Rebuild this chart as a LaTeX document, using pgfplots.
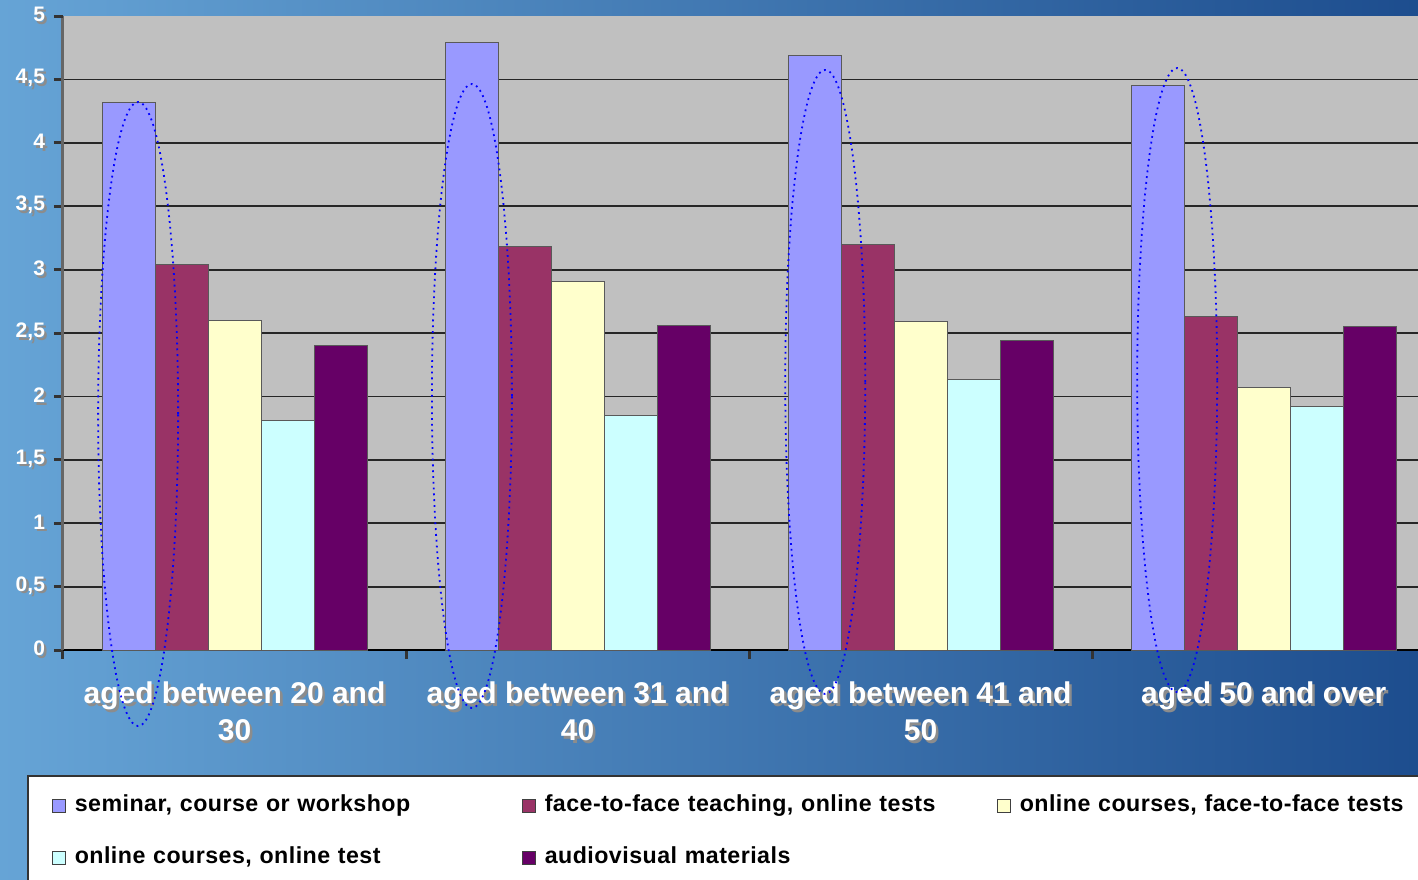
\documentclass[border=0pt]{standalone}
\usepackage{pgfplots}
\pgfplotsset{compat=1.18}
\usepackage{fontspec}
\setmainfont{Liberation Sans}
\newfontfamily\legfont[LetterSpace=2]{Liberation Sans}

\definecolor{plotbg}{HTML}{C0C0C0}
\definecolor{sem}{HTML}{9999FF}
\definecolor{ftf}{HTML}{993366}
\definecolor{ocf}{HTML}{FFFFCC}
\definecolor{oco}{HTML}{CCFFFF}
\definecolor{av}{HTML}{660066}
\definecolor{bgl}{HTML}{66A4D6}
\definecolor{bgm}{HTML}{4583C2}
\definecolor{bgr}{HTML}{1D4D8E}

% white text with a grey drop shadow
\newcommand{\sh}[1]{\leavevmode\rlap{\kern1.3pt\raisebox{-1.3pt}{\textcolor{black!45}{#1}}}\textcolor{white}{#1}}

\begin{document}
\begin{tikzpicture}
\shade[left color=bgl, middle color=bgm, right color=bgr] (0,0) rectangle (709pt,439.5pt);
\begin{axis}[
    at={(31.5pt,114.5pt)}, anchor=south west,
    scale only axis, width=677.5pt, height=317pt,
    xmin=-0.5, xmax=3.45, ymin=0, ymax=5,
    ybar=0pt, bar width=26.5pt,
    clip=false,
    axis background/.style={fill=plotbg},
    axis lines*=left,
    x axis line style={black, line width=1pt},
    y axis line style={black!60, line width=1.5pt},
    tick align=outside,
    major tick length=4.5pt,
    tick style={black!80, line width=1.5pt},
    xtick={-0.5,0.5,1.5,2.5},
    xticklabels={},
    extra x ticks={0,1,2,3},
    extra x tick style={major tick length=0pt},
    extra x tick labels={{\sh{aged between 20 and}\\\sh{30}},{\sh{aged between 31 and}\\\sh{40}},{\sh{aged between 41 and}\\\sh{50}},{\sh{aged 50 and over}}},
    xticklabel style={align=center, font=\bfseries\fontsize{15}{18.5}\selectfont, yshift=-12.5pt},
    ytick={0,0.5,...,4.5},
    yticklabels={{\sh{0}},{\sh{0,5}},{\sh{1}},{\sh{1,5}},{\sh{2}},{\sh{2,5}},{\sh{3}},{\sh{3,5}},{\sh{4}},{\sh{4,5}}},
    extra y ticks={5},
    extra y tick labels={{\sh{5}}},
    extra y tick style={grid=none},
    yticklabel style={font=\bfseries\fontsize{10.5}{12}\selectfont, xshift=-1pt},
    ymajorgrids,
    major grid style={black!85, line width=0.9pt},
    legend columns=3,
    legend cell align=left,
    legend style={at={(-0.02657,-0.1972)}, anchor=north west, draw=black!80, line width=0.8pt, fill=white,
        font=\legfont\bfseries\fontsize{11.6}{14}\selectfont, inner xsep=12pt, inner ysep=8pt, row sep=12pt,
        nodes={text height=8pt, text depth=2pt},
        /tikz/every odd column/.append style={column sep=2.5pt}},
    legend image code/.code={\draw[#1, draw=black!75, line width=0.5pt] (0pt,-3.25pt) rectangle (6.5pt,3.25pt);},
]
\addplot[fill=sem, draw=black!65, line width=0.5pt] coordinates {(0,4.32) (1,4.79) (2,4.69) (3,4.45)};
\addlegendentry[text width=221.5pt]{seminar, course or workshop}
\addplot[fill=ftf, draw=black!65, line width=0.5pt] coordinates {(0,3.04) (1,3.18) (2,3.20) (3,2.63)};
\addlegendentry[text width=224pt]{face-to-face teaching, online tests}
\addplot[fill=ocf, draw=black!65, line width=0.5pt] coordinates {(0,2.60) (1,2.91) (2,2.59) (3,2.07)};
\addlegendentry[text width=230pt]{online courses, face-to-face tests}
\addplot[fill=oco, draw=black!65, line width=0.5pt] coordinates {(0,1.81) (1,1.85) (2,2.13) (3,1.92)};
\addlegendentry[text width=221.5pt]{online courses, online test}
\addplot[fill=av, draw=black!65, line width=0.5pt] coordinates {(0,2.40) (1,2.56) (2,2.44) (3,2.55)};
\addlegendentry[text width=224pt]{audiovisual materials}

\draw[blue, dotted, line width=0.9pt] (axis cs:-0.281,1.861) ellipse [x radius=20pt, y radius=156pt];
\draw[blue, dotted, line width=0.9pt] (axis cs:0.692,2.003) ellipse [x radius=20pt, y radius=156pt];
\draw[blue, dotted, line width=0.9pt] (axis cs:1.722,2.114) ellipse [x radius=20pt, y radius=156pt];
\draw[blue, dotted, line width=0.9pt] (axis cs:2.748,2.129) ellipse [x radius=20pt, y radius=156pt];
\end{axis}
\pgfresetboundingbox
\useasboundingbox (0,0) rectangle (709pt,439.5pt);
\end{tikzpicture}
\end{document}
